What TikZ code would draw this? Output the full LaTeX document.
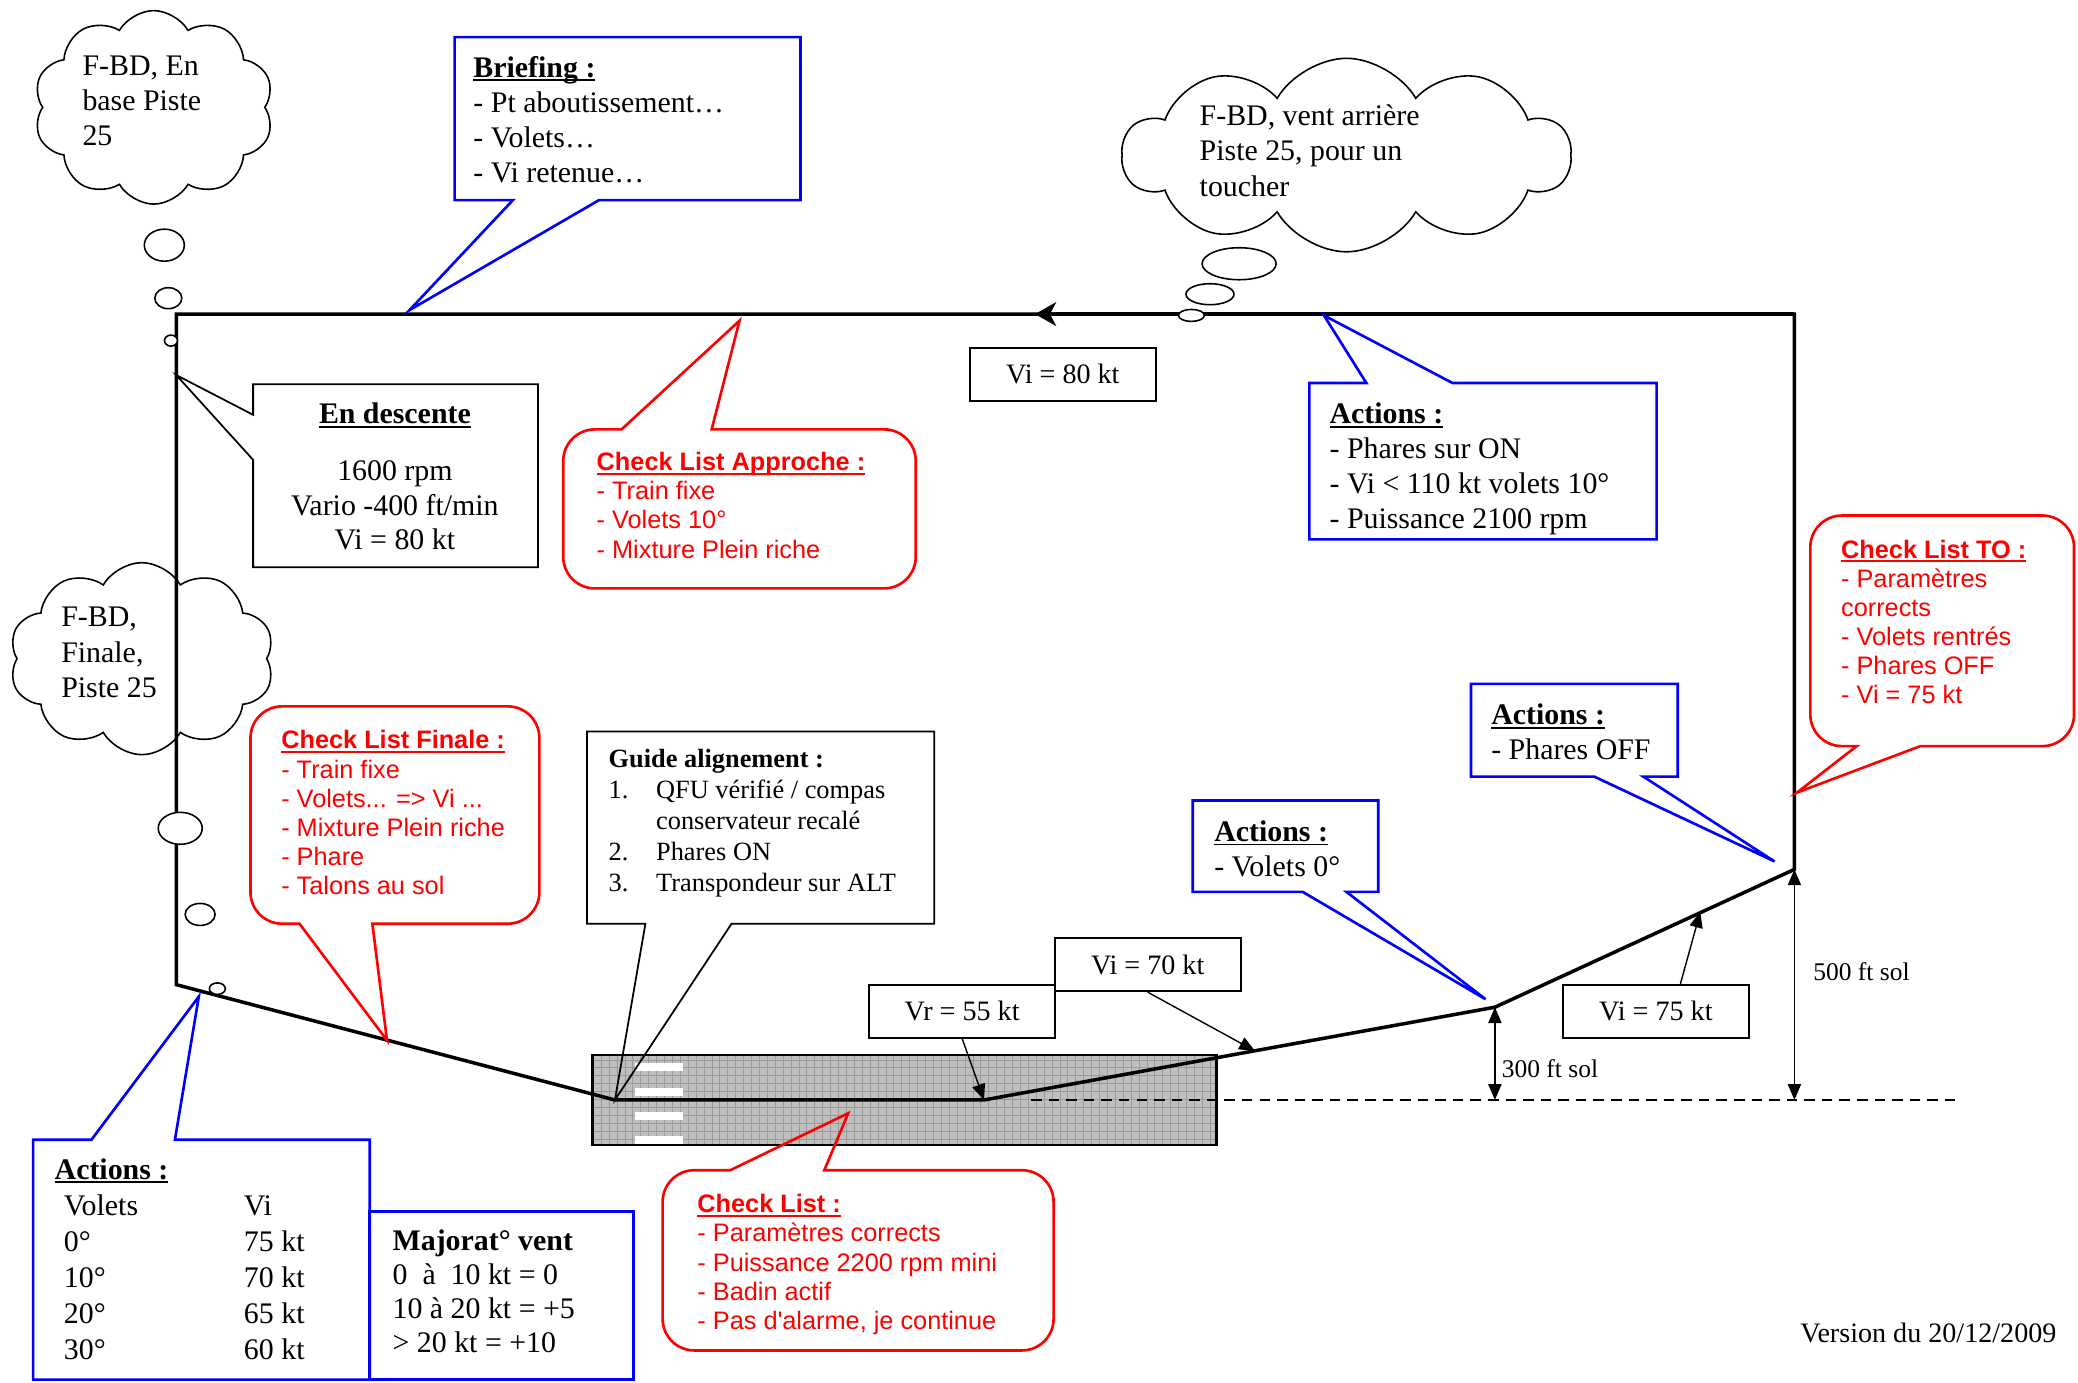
\documentclass[tikz,border=0pt]{standalone}
\usepackage{fontspec}
\setmainfont{Liberation Serif}
\setsansfont{Liberation Sans}
\usetikzlibrary{arrows.meta, shapes.symbols}

\newcommand{\undertext}[1]{\setbox0\hbox{#1}\rlap{\rule[-2.3pt]{\wd0}{1.1pt}}\box0}

\tikzset{
  circuit/.style={line width=2pt, line join=miter},
  bluecall/.style={draw=blue, line width=1.5pt, line join=miter},
  redcall/.style={draw=red, line width=1.5pt, line join=miter},
  blackcall/.style={draw=black, line width=1pt, line join=miter},
  calltext/.style={anchor=north west, inner sep=0pt, align=left, font=\fontsize{17}{20}\selectfont},
  redtext/.style={anchor=north west, inner sep=0pt, align=left, text=red, font=\sffamily\fontsize{14.4}{16.6}\selectfont},
  guidetext/.style={anchor=north west, inner sep=0pt, align=left, font=\fontsize{15}{17.6}\selectfont},
  valbox/.style={draw, line width=1pt, minimum width=3.72cm, minimum height=1.06cm, inner sep=0pt, font=\fontsize{16}{19}\selectfont},
  thoughtcloud/.style={cloud, draw, line width=0.9pt, cloud puffs=10, cloud puff arc=120, cloud ignores aspect, inner sep=0pt},
  bubble/.style={draw, line width=0.9pt, fill=white},
  labelarrow/.style={line width=0.8pt, -{Triangle[length=9pt, width=7.5pt]}},
  dimarrow/.style={line width=0.8pt, {Triangle[length=9pt, width=7.5pt]}-{Triangle[length=9pt, width=7.5pt]}},
  dimlabel/.style={anchor=west, inner sep=0pt, font=\fontsize{14.5}{17}\selectfont},
}

\begin{document}
\begin{tikzpicture}[x=0.0265cm, y=-0.0265cm]
\useasboundingbox (0,0) rectangle (1568,1043);
\fill[white] (0,0) rectangle (1568,1043);

% piste
\coordinate (rwya) at (447,796);
\coordinate (rwyb) at (918,864);
\fill[gray!50] (rwya) rectangle (rwyb);
\draw[gray!80, line width=0.2pt, step=4.5pt] (rwya) grid (rwyb);
\fill[white] (479,802) rectangle (515,808);
\fill[white] (479,821) rectangle (515,827);
\fill[white] (479,839) rectangle (515,845);
\fill[white] (479,857) rectangle (515,863);
\draw[line width=1.5pt] (rwya) rectangle (rwyb);

% tour de piste
\coordinate (tl) at (133,237);
\coordinate (tr) at (1354,237);
\coordinate (r500) at (1354,656);
\coordinate (p300) at (1128,760);
\coordinate (rot) at (742.5,830);
\coordinate (thr) at (464,830);
\coordinate (bl) at (133,743);
\coordinate (dwarrow) at (781,237);
\draw[circuit] (thr) -- (rot) -- (p300) -- (r500) -- (tr) -- (tl) -- (bl) -- cycle;
\draw[circuit, -{Stealth[length=12pt, width=13.5pt, inset=3.5pt]}] (tr) -- (dwarrow);

% sol et hauteurs
\coordinate (gndstart) at (778,830);
\coordinate (gndend) at (1477,830);
\draw[line width=1.5pt, dash pattern=on 6pt off 4pt] (gndstart) -- (gndend);
\draw[dimarrow] (p300) -- (p300 |- gndend);
\draw[dimarrow] (r500) -- (r500 |- gndend);
\node[dimlabel] (hthree) at (1133,806) {300 ft sol};
\node[dimlabel] (hfive) at (1368,733) {500 ft sol};

% vitesses
\node[valbox] (vieighty) at (802,282.5) {Vi = 80 kt};
\node[valbox] (viseventy) at (866,728) {Vi = 70 kt};
\node[valbox] (vrfiftyfive) at (726,763) {Vr = 55 kt};
\node[valbox] (visevfive) at (1249.5,763) {Vi = 75 kt};
\coordinate (climbseventy) at (947,793);
\coordinate (climbsevfive) at (1283,688);
\draw[labelarrow] (vrfiftyfive.south) -- (rot);
\draw[labelarrow] (viseventy.south) -- (climbseventy);
\draw[labelarrow] ([xshift=0.49cm]visevfive.north) -- (climbsevfive);

% nuages radio
\node[thoughtcloud, minimum width=4.8cm, minimum height=3.87cm] (cloudbase) at (116,81) {};
\node[calltext] (basetext) at (62,42) {F-BD, En\\base Piste\\25};
\draw[bubble] (124,185) ellipse [x radius=0.40cm, y radius=0.32cm];
\draw[bubble] (127,225) ellipse [x radius=0.27cm, y radius=0.21cm];
\draw[bubble] (129,257) ellipse [x radius=0.13cm, y radius=0.11cm];

\node[thoughtcloud, minimum width=8.96cm, minimum height=3.87cm] (cloudwind) at (1016,117) {};
\node[calltext] (windtext) at (905,79) {F-BD, vent arrière\\Piste 25, pour un\\toucher};
\draw[bubble] (935,199) ellipse [x radius=0.74cm, y radius=0.32cm];
\draw[bubble] (913,222) ellipse [x radius=0.48cm, y radius=0.21cm];
\draw[bubble] (899,238) ellipse [x radius=0.26cm, y radius=0.12cm];

\node[thoughtcloud, minimum width=5.3cm, minimum height=3.84cm] (cloudfinal) at (107,497) {};
\node[calltext] (finaltext) at (46,458) {F-BD,\\Finale,\\Piste 25};
\draw[bubble] (136,625) ellipse [x radius=0.44cm, y radius=0.32cm];
\draw[bubble] (151,690) ellipse [x radius=0.30cm, y radius=0.22cm];
\draw[bubble] (164,746) ellipse [x radius=0.16cm, y radius=0.115cm];

% briefing
\coordinate (brieftip) at (309,234);
\draw[bluecall] (343,28) -- (604,28) -- (604,151) -- (452,151) -- (brieftip) -- (387,151) -- (343,151) -- cycle;
\node[calltext] (brief) at (357,42) {\undertext{\textbf{Briefing :}}\\- Pt aboutissement…\\- Volets…\\- Vi retenue…};

% en descente
\coordinate (desctip) at (133,283);
\draw[blackcall] (191,290) -- (406,290) -- (406,428) -- (191,428) -- (191,347) -- (desctip) -- (191,313) -- cycle;
\node[calltext, align=center, anchor=north, font=\fontsize{17}{19.6}\selectfont] (desc) at (298,304)
  {\undertext{\textbf{En descente}}\\[12.8pt]1600 rpm\\Vario -400 ft/min\\Vi = 80 kt};

% check list approche
\coordinate (apprtip) at (558,242);
\draw[redcall] (537,324) [rounded corners=18pt] -- (691,324) -- (691,444) -- (425,444) -- (425,324) [sharp corners] -- (469,324) -- (apprtip) -- cycle;
\node[redtext] (appr) at (450,341) {\undertext{\textbf{Check List Approche :}}\\- Train fixe\\- Volets 10°\\- Mixture Plein riche};

% actions vent arriere
\coordinate (acttoptip) at (999,238);
\draw[bluecall] (1096,289) -- (1250,289) -- (1250,407) -- (988,407) -- (988,289) -- (1031,289) -- (acttoptip) -- cycle;
\node[calltext, font=\fontsize{17}{19.8}\selectfont] (acttop) at (1003,304) {\undertext{\textbf{Actions :}}\\- Phares sur ON\\- Vi < 110 kt volets 10°\\- Puissance 2100 rpm};

% check list TO
\coordinate (totip) at (1356,598);
\draw[redcall] (1449,563) [rounded corners=18pt] -- (1565,563) -- (1565,389) -- (1366,389) -- (1366,563) [sharp corners] -- (1401,563) -- (totip) -- cycle;
\node[redtext] (tolist) at (1389,407) {\undertext{\textbf{Check List TO :}}\\- Paramètres\\corrects\\- Volets rentrés\\- Phares OFF\\- Vi = 75 kt};

% actions phares off
\coordinate (pharestip) at (1339,650);
\draw[bluecall] (1110,516) -- (1266,516) -- (1266,586) -- (1240,586) -- (pharestip) -- (1203,586) -- (1110,586) -- cycle;
\node[calltext] (phares) at (1125,531) {\undertext{\textbf{Actions :}}\\- Phares OFF};

% actions volets 0
\coordinate (voletstip) at (1121,754);
\draw[bluecall] (900,604) -- (1040,604) -- (1040,673) -- (1016,673) -- (voletstip) -- (983,673) -- (900,673) -- cycle;
\node[calltext] (volets) at (916,619) {\undertext{\textbf{Actions :}}\\- Volets 0°};

% guide alignement
\draw[blackcall] (443,552) -- (705,552) -- (705,697) -- (552,697) -- (thr) -- (487,697) -- (443,697) -- cycle;
\node[guidetext] (guide) at (459,565) {\textbf{Guide alignement :}\\
  \makebox[0.95cm][l]{1.}QFU vérifié / compas\\
  \hspace*{0.95cm}conservateur recalé\\
  \makebox[0.95cm][l]{2.}Phares ON\\
  \makebox[0.95cm][l]{3.}Transpondeur sur ALT};

% check list finale
\coordinate (finaletip) at (292,785);
\draw[redcall] (226,697) [rounded corners=18pt] -- (189,697) -- (189,533) -- (407,533) -- (407,697) [sharp corners] -- (281,697) -- (finaletip) -- cycle;
\node[redtext] (finale) at (212,551) {\undertext{\textbf{Check List Finale :}}\\- Train fixe\\- Volets... => Vi ...\\- Mixture Plein riche\\- Phare\\- Talons au sol};

% check list roulage
\coordinate (rolltip) at (640,840);
\draw[redcall] (622,883) [rounded corners=18pt] -- (795,883) -- (795,1019) -- (500,1019) -- (500,883) [sharp corners] -- (551,883) -- (rolltip) -- cycle;
\node[redtext] (roll) at (526,901) {\undertext{\textbf{Check List :}}\\- Paramètres corrects\\- Puissance 2200 rpm mini\\- Badin actif\\- Pas d\textquotesingle alarme, je continue};

% actions finale : volets / vi
\coordinate (tabtip) at (150,752);
\draw[bluecall] (132,860) -- (279,860) -- (279,1041) -- (25,1041) -- (25,860) -- (69,860) -- (tabtip) -- cycle;
\node[calltext] (tabtitle) at (41,874) {\undertext{\textbf{Actions :}}};
\node[calltext, font=\fontsize{17}{20.6}\selectfont] (tabvi) at (48,901)
  {\makebox[3.6cm][l]{Volets}Vi\\\makebox[3.6cm][l]{0°}75 kt\\\makebox[3.6cm][l]{10°}70 kt\\\makebox[3.6cm][l]{20°}65 kt\\\makebox[3.6cm][l]{30°}60 kt};

% majoration vent
\draw[bluecall] (279,914) rectangle (478,1041);
\node[calltext, font=\fontsize{17}{19.3}\selectfont] (majo) at (296,928)
  {\textbf{Majorat° vent}\\0\ \ à\ \ 10 kt = 0\\10 à 20 kt = +5\\> 20 kt = +10};

\node[anchor=east, inner sep=0pt, font=\fontsize{16}{19}\selectfont] (version) at (1552,1006) {Version du 20/12/2009};
\end{tikzpicture}
\end{document}
